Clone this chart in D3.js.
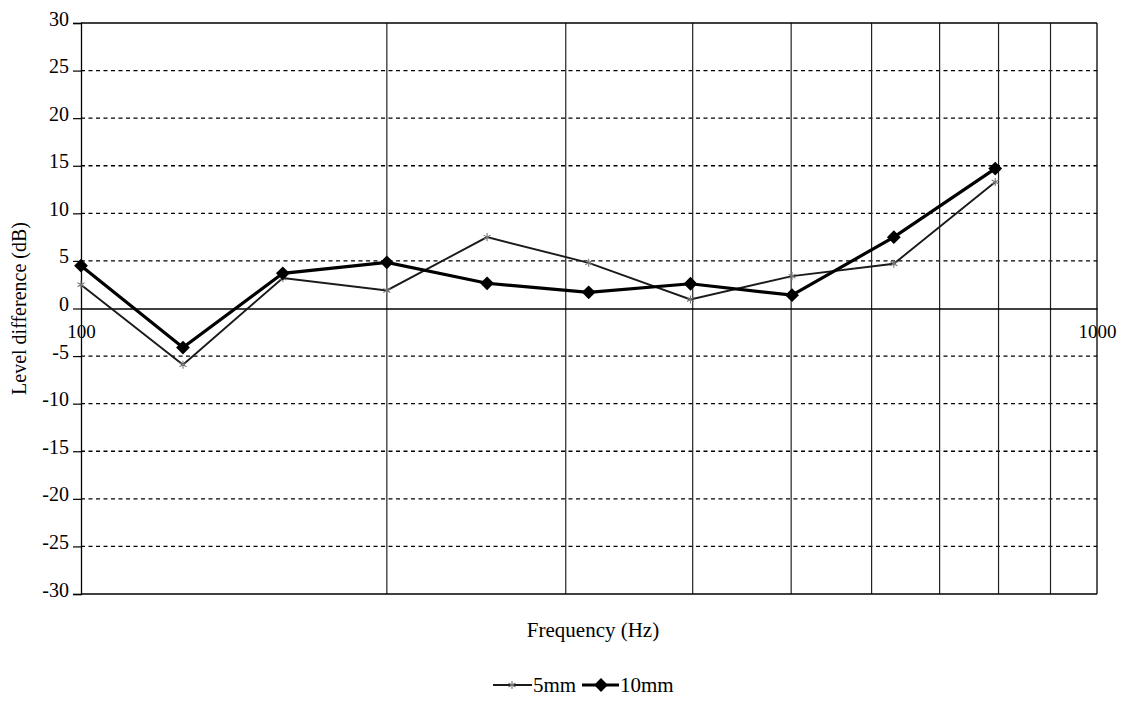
<!DOCTYPE html>
<html>
<head>
<meta charset="utf-8">
<script src="https://cdn.jsdelivr.net/npm/d3@7"></script>
<style>
  html, body { margin: 0; padding: 0; background: #fff; }
  svg { display: block; }
  text { font-family: "Liberation Serif", "Times New Roman", serif; fill: #000; }
</style>
</head>
<body>
<svg id="chart" width="1123" height="701"></svg>
<script>
// ---- data ----
const frequencies = [100, 126, 158, 200, 251, 316, 398, 501, 631, 794];
const series5mm   = [2.5, -5.9, 3.2, 1.9, 7.5, 4.8, 0.95, 3.4, 4.7, 13.3];
const series10mm  = [4.5, -4.1, 3.7, 4.85, 2.65, 1.7, 2.6, 1.4, 7.5, 14.7];
const seriesNames = ["5mm", "10mm"];
const yTicks = [-30, -25, -20, -15, -10, -5, 0, 5, 10, 15, 20, 25, 30];
const xGridValues = [200, 300, 400, 500, 600, 700, 800, 900];
const xTickLabels = [100, 1000];

const svg = d3.select("#chart");
const x = d3.scaleLog().domain([100, 1000]).range([81, 1097]);
const y = d3.scaleLinear().domain([-30, 30]).range([594, 23]);
const fmt = d => String(d);

// horizontal dashed gridlines
svg.append("g").selectAll("line")
  .data(yTicks.filter(v => v !== 0 && v !== 30 && v !== -30))
  .join("line")
  .attr("x1", x(100)).attr("x2", x(1000))
  .attr("y1", d => y(d)).attr("y2", d => y(d))
  .attr("stroke", "#000").attr("stroke-width", 1.4)
  .attr("stroke-dasharray", "4,3.5");

// vertical gridlines
svg.append("g").selectAll("line")
  .data(xGridValues)
  .join("line")
  .attr("x1", d => x(d)).attr("x2", d => x(d))
  .attr("y1", y(30)).attr("y2", y(-30))
  .attr("stroke", "#222").attr("stroke-width", 1.2);

// borders
svg.append("line").attr("x1", x(100)).attr("x2", x(1000)).attr("y1", y(30)).attr("y2", y(30))
  .attr("stroke", "#000").attr("stroke-width", 1.4);
svg.append("line").attr("x1", x(100)).attr("x2", x(1000)).attr("y1", y(-30)).attr("y2", y(-30))
  .attr("stroke", "#000").attr("stroke-width", 1.4);
svg.append("line").attr("x1", x(1000)).attr("x2", x(1000)).attr("y1", y(30)).attr("y2", y(-30))
  .attr("stroke", "#000").attr("stroke-width", 1.3);

// y axis
const yAxis = svg.append("g")
  .attr("transform", `translate(${x(100)},0)`)
  .call(d3.axisLeft(y).tickValues(yTicks).tickSize(8).tickPadding(4).tickFormat(fmt));
yAxis.select(".domain").attr("stroke", "#000").attr("stroke-width", 1.3);
yAxis.selectAll(".tick line").attr("stroke", "#000").attr("stroke-width", 1.2);
yAxis.selectAll(".tick text")
  .style("font-family", "'Liberation Serif', 'Times New Roman', serif")
  .style("font-size", "20px").attr("dy", "0.1em").attr("fill", "#000");

// x axis along zero line
const xAxis = svg.append("g")
  .attr("transform", `translate(0,${y(0)})`)
  .call(d3.axisBottom(x).tickValues(xTickLabels).tickSize(0).tickPadding(16).tickFormat(fmt));
xAxis.select(".domain").attr("stroke", "#000").attr("stroke-width", 1.4);
xAxis.selectAll(".tick text")
  .style("font-family", "'Liberation Serif', 'Times New Roman', serif")
  .style("font-size", "19px").attr("fill", "#000");

// axis titles
svg.append("text")
  .attr("transform", `translate(26,${y(0)}) rotate(-90)`)
  .attr("text-anchor", "middle")
  .style("font-size", "20px")
  .text("Level difference (dB)");
svg.append("text")
  .attr("x", 593).attr("y", 637)
  .attr("text-anchor", "middle")
  .style("font-size", "21px")
  .text("Frequency (Hz)");

// series
const line = d3.line().x(d => x(d[0])).y(d => y(d[1]));
const data5 = frequencies.map((f, i) => [f, series5mm[i]]);
const data10 = frequencies.map((f, i) => [f, series10mm[i]]);

svg.append("path").datum(data5).attr("d", line)
  .attr("fill", "none").attr("stroke", "#1a1a1a").attr("stroke-width", 1.9);
const star = d3.symbol().type(d3.symbolAsterisk).size(45);
svg.append("g").selectAll("path").data(data5).join("path")
  .attr("transform", d => `translate(${x(d[0])},${y(d[1])})`)
  .attr("d", star).attr("fill", "none").attr("stroke", "#777").attr("stroke-width", 1.1);

svg.append("path").datum(data10).attr("d", line)
  .attr("fill", "none").attr("stroke", "#000").attr("stroke-width", 3.2);
const diamond = d3.symbol().type(d3.symbolSquare).size(95);
svg.append("g").selectAll("path").data(data10).join("path")
  .attr("transform", d => `translate(${x(d[0])},${y(d[1])}) rotate(45)`)
  .attr("d", diamond).attr("fill", "#000");

// legend
const lg = svg.append("g");
lg.append("line").attr("x1", 493).attr("x2", 532).attr("y1", 685).attr("y2", 685)
  .attr("stroke", "#1a1a1a").attr("stroke-width", 1.9);
lg.append("path").attr("transform", "translate(512,685)").attr("d", star)
  .attr("fill", "none").attr("stroke", "#777").attr("stroke-width", 1.1);
lg.append("text").attr("x", 533).attr("y", 692).style("font-size", "21px").text(seriesNames[0]);
lg.append("line").attr("x1", 582).attr("x2", 619).attr("y1", 685).attr("y2", 685)
  .attr("stroke", "#000").attr("stroke-width", 3.2);
lg.append("path").attr("transform", "translate(601,685) rotate(45)").attr("d", diamond).attr("fill", "#000");
lg.append("text").attr("x", 620).attr("y", 692).style("font-size", "21px").text(seriesNames[1]);
</script>
</body>
</html>
